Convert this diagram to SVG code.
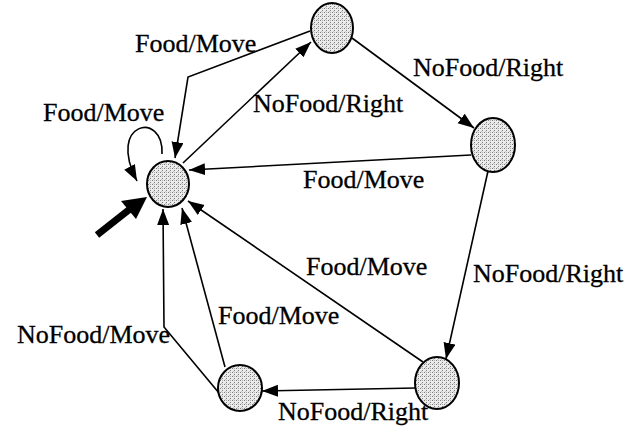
<svg xmlns="http://www.w3.org/2000/svg" width="642" height="426" viewBox="0 0 642 426">
  <style>
    .node { stroke: #000; stroke-width: 2; fill: url(#stipple); }
    .edge { fill: none; stroke: #000; stroke-width: 1.6; marker-end: url(#arrow); }
    .label { font-family: "Liberation Serif", "Times New Roman", serif; font-size: 26px; fill: #000; stroke: #000; stroke-width: 0.3; }
  </style>
  <defs>
    <pattern id="stipple" width="4" height="4" patternUnits="userSpaceOnUse">
      <rect width="4" height="4" fill="#ececec"/>
      <rect x="0" y="0" width="1" height="1" fill="#7a7a7a"/>
      <rect x="2" y="2" width="1" height="1" fill="#7a7a7a"/>
      <rect x="2" y="0" width="1" height="1" fill="#b0b0b0"/>
      <rect x="1" y="3" width="1" height="1" fill="#c0c0c0"/>
    </pattern>
    <marker id="arrow" markerUnits="userSpaceOnUse" markerWidth="17" markerHeight="13" refX="16" refY="6" orient="auto">
      <path d="M0,0 L16,6 L0,12 z" fill="#000"/>
    </marker>
  </defs>

  <!-- transitions -->
  <g id="connectors">
    <!-- start arrow -->
    <line x1="97" y1="235" x2="130" y2="209" stroke="#000" stroke-width="7"/>
    <polygon points="147,197 136,219 121,201" fill="#000"/>
    <!-- self loop -->
    <path class="edge" d="M162,154 C164,110 106,122 137,181"/>
    <!-- A to B -->
    <line class="edge" x1="183" y1="163" x2="311" y2="42"/>
    <!-- B to A -->
    <polyline class="edge" points="310,31 188,77 175,158"/>
    <!-- B to C -->
    <line class="edge" x1="352" y1="38" x2="474" y2="128"/>
    <!-- C to A -->
    <line class="edge" x1="471" y1="155" x2="189" y2="170"/>
    <!-- C to D -->
    <line class="edge" x1="488" y1="171" x2="446" y2="359"/>
    <!-- D to A -->
    <line class="edge" x1="423" y1="362" x2="188" y2="201"/>
    <!-- D to E -->
    <line class="edge" x1="416" y1="388" x2="262" y2="391"/>
    <!-- E to A, food -->
    <line class="edge" x1="225" y1="367" x2="182" y2="208"/>
    <!-- E to A, no food -->
    <polyline class="edge" points="219,393 164,327 163,209"/>
  </g>

  <!-- states -->
  <g id="state-a"><ellipse class="node" cx="168" cy="184" rx="21" ry="23"/></g>
  <g id="state-b"><ellipse class="node" cx="332" cy="28" rx="21" ry="25"/></g>
  <g id="state-c"><ellipse class="node" cx="493" cy="145" rx="22" ry="27"/></g>
  <g id="state-d"><ellipse class="node" cx="437" cy="383" rx="22" ry="26"/></g>
  <g id="state-e"><ellipse class="node" cx="240" cy="388" rx="22" ry="23"/></g>

  <!-- transition labels -->
  <g id="labels">
    <text class="label" x="135" y="52">Food/Move</text>
    <text class="label" x="43" y="121">Food/Move</text>
    <text class="label" x="253" y="112">NoFood/Right</text>
    <text class="label" x="413" y="76">NoFood/Right</text>
    <text class="label" x="303" y="188">Food/Move</text>
    <text class="label" x="473" y="282">NoFood/Right</text>
    <text class="label" x="306" y="275">Food/Move</text>
    <text class="label" x="218" y="324">Food/Move</text>
    <text class="label" x="17" y="343">NoFood/Move</text>
    <text class="label" x="278" y="420">NoFood/Right</text>
  </g>
</svg>
